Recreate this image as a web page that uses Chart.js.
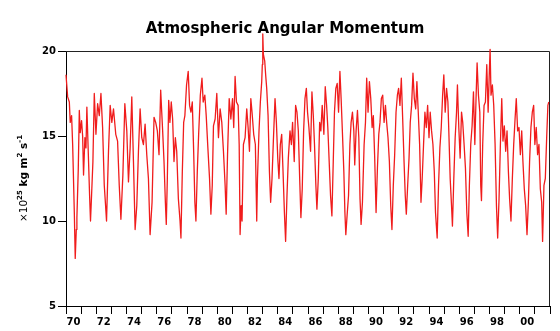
<!DOCTYPE html>
<html><head><meta charset="utf-8">
<script src="https://cdn.jsdelivr.net/npm/chart.js@4/dist/chart.umd.min.js"></script>
<style>html,body{margin:0;padding:0;background:#fff}#wrap{width:560px;height:331px}</style>
</head><body><div id="wrap"><canvas id="c" width="560" height="331"></canvas></div>
<script>
const titleText = 'Atmospheric Angular Momentum';
const yTickValues = [5, 10, 15, 20];
const xTickYears = [1970,1971,1972,1973,1974,1975,1976,1977,1978,1979,1980,1981,1982,1983,1984,1985,1986,1987,1988,1989,1990,1991,1992,1993,1994,1995,1996,1997,1998,1999,2000,2001,2002];
const xLabelYears = [1970,1972,1974,1976,1978,1980,1982,1984,1986,1988,1990,1992,1994,1996,1998,2000];
const xLabels = ['70','72','74','76','78','80','82','84','86','88','90','92','94','96','98','00'];

// decimal year of each reading
const decimalYears = [
1970.00,1970.11,1970.22,1970.28,1970.37,1970.44,1970.55,1970.61,1970.68,1970.72,1970.81,1970.88,1970.94,
1971.03,1971.10,1971.16,1971.25,1971.32,1971.38,1971.47,1971.56,1971.62,1971.69,1971.78,1971.87,1971.98,
1972.09,1972.20,1972.31,1972.42,1972.53,1972.61,1972.68,1972.81,1972.92,
1973.03,1973.14,1973.29,1973.41,1973.52,1973.63,1973.76,1973.89,
1974.02,1974.13,1974.24,1974.35,1974.46,1974.57,1974.68,1974.79,1974.90,
1975.01,1975.12,1975.23,1975.34,1975.45,1975.56,1975.69,1975.82,1975.93,
1976.04,1976.15,1976.26,1976.33,1976.39,1976.48,1976.57,1976.63,1976.70,1976.79,1976.87,1976.96,
1977.05,1977.14,1977.23,1977.32,1977.43,1977.54,1977.60,1977.69,1977.78,1977.86,1977.97,
1978.08,1978.17,1978.26,1978.35,1978.44,1978.52,1978.59,1978.68,1978.77,1978.88,1978.99,
1979.07,1979.18,1979.27,1979.38,1979.49,1979.58,1979.67,1979.75,1979.86,1979.97,
1980.08,1980.19,1980.30,1980.41,1980.52,1980.59,1980.68,1980.79,1980.90,
1981.01,1981.09,1981.18,1981.27,1981.38,1981.45,1981.51,1981.58,1981.64,1981.73,1981.84,1981.95,
1982.04,1982.13,1982.22,1982.30,1982.41,1982.52,1982.61,1982.66,1982.76,1982.85,1982.94,1982.98,
1983.01,1983.05,1983.14,1983.20,1983.27,1983.36,1983.45,1983.53,1983.62,1983.71,1983.82,1983.91,
1984.00,1984.08,1984.17,1984.26,1984.35,1984.44,1984.52,1984.61,1984.70,1984.81,1984.90,1984.98,
1985.09,1985.18,1985.27,1985.36,1985.45,1985.53,1985.62,1985.71,1985.80,1985.89,1985.97,
1986.06,1986.17,1986.26,1986.35,1986.43,1986.52,1986.59,1986.68,1986.77,1986.85,1986.94,
1987.05,1987.14,1987.23,1987.31,1987.40,1987.49,1987.58,1987.67,1987.75,1987.84,1987.93,
1988.02,1988.11,1988.19,1988.28,1988.37,1988.44,1988.50,1988.59,1988.68,1988.77,1988.85,1988.94,
1989.03,1989.09,1989.18,1989.27,1989.36,1989.44,1989.51,1989.60,1989.71,1989.80,1989.88,1989.97,
1990.06,1990.15,1990.24,1990.32,1990.41,1990.50,1990.59,1990.68,1990.76,1990.85,1990.94,
1991.03,1991.12,1991.20,1991.29,1991.38,1991.47,1991.55,1991.64,1991.73,1991.82,1991.91,1991.99,
1992.08,1992.17,1992.26,1992.35,1992.43,1992.50,1992.59,1992.68,1992.76,1992.85,1992.94,
1993.03,1993.12,1993.20,1993.29,1993.38,1993.47,1993.55,1993.64,1993.73,1993.82,1993.91,
1994.00,1994.08,1994.17,1994.26,1994.35,1994.43,1994.54,1994.63,1994.72,1994.81,1994.90,1994.98,
1995.07,1995.16,1995.25,1995.31,1995.40,1995.49,1995.55,1995.64,1995.73,1995.82,1995.88,1995.97,
1996.06,1996.15,1996.23,1996.32,1996.41,1996.50,1996.59,1996.67,1996.76,1996.85,1996.94,
1997.03,1997.11,1997.18,1997.27,1997.36,1997.42,1997.47,1997.55,1997.64,1997.73,1997.82,1997.91,1997.99,
1998.04,1998.10,1998.19,1998.28,1998.37,1998.46,1998.54,1998.63,1998.72,1998.81,1998.89,1998.98,
1999.07,1999.16,1999.25,1999.33,1999.42,1999.51,1999.60,1999.69,1999.77,1999.86,1999.95,
2000.04,2000.13,2000.21,2000.30,2000.39,2000.48,2000.57,2000.65,2000.74,2000.83,2000.92,
2001.00,2001.09,2001.18,2001.27,2001.36,2001.45,2001.51,2001.60,2001.69,2001.78,2001.86,2001.92
];

// atmospheric angular momentum, 10^25 kg m^2 s^-1
const aamValues = [
18.6,17.3,17.0,15.8,16.2,14.5,10.5,7.8,9.5,10.2,13.0,16.5,15.2,
15.9,15.0,12.7,14.9,14.3,16.7,14.1,11.5,10.0,11.5,13.5,17.5,15.1,
16.9,16.2,17.5,15.5,12.1,11.0,10.0,14.1,16.8,
15.8,16.6,15.1,14.7,12.1,10.1,12.7,16.9,
15.3,12.3,14.3,17.3,13.5,9.5,10.9,14.1,16.6,
14.9,14.5,15.7,13.9,12.5,9.2,11.1,16.1,15.8,
15.3,13.9,17.7,16.4,15.3,13.5,11.1,9.8,12.5,17.1,15.8,17.0,
16.0,13.5,14.9,14.1,11.3,10.0,9.0,12.9,15.8,16.2,18.0,
18.8,16.8,16.4,17.0,14.1,11.1,10.0,12.9,15.1,17.4,18.4,
17.0,17.4,16.2,14.3,12.5,10.4,12.1,15.6,16.0,17.5,
14.9,16.6,15.8,14.1,12.1,10.4,13.9,17.2,16.0,
17.2,15.5,18.5,17.0,16.8,14.5,9.2,10.9,10.0,14.5,14.9,16.6,
15.5,14.1,17.2,16.4,15.1,14.5,10.0,12.5,15.3,17.0,18.2,19.2,
21.0,19.8,19.4,18.6,17.8,16.2,12.9,11.1,12.5,14.7,17.2,15.8,
13.7,12.5,14.5,15.1,12.9,10.5,8.8,11.5,13.7,15.3,14.5,15.8,
13.5,16.8,16.4,15.3,12.5,10.2,11.9,15.3,17.2,17.8,16.4,
15.5,14.1,17.6,16.2,14.5,12.1,10.7,12.5,15.8,15.3,16.8,
15.1,17.9,16.8,15.5,13.5,11.5,10.3,13.5,16.4,17.8,18.1,
16.4,18.8,17.2,15.1,12.9,10.5,9.2,10.4,11.5,14.5,15.8,16.4,
15.3,13.3,15.3,16.5,14.9,11.3,9.8,11.1,14.5,15.8,18.4,16.4,
18.2,17.2,15.5,16.2,13.7,10.5,13.1,15.1,15.8,17.2,17.4,
15.8,16.8,15.8,14.9,13.5,10.9,9.5,12.1,13.9,16.4,17.4,17.8,
16.8,18.4,16.0,13.5,11.5,10.4,12.1,13.7,15.8,16.8,18.7,
17.2,16.6,18.2,16.4,14.5,11.1,12.5,14.5,16.4,15.5,16.8,
14.9,16.4,15.3,14.5,12.9,10.5,9.0,12.1,14.3,15.5,17.4,18.6,
16.4,17.8,17.0,15.3,12.5,10.9,9.7,12.5,14.9,16.4,18.0,15.5,
13.7,16.4,15.8,14.5,13.1,10.5,9.1,12.1,14.5,15.6,17.6,
14.5,17.2,19.3,17.4,16.4,12.1,11.2,14.5,16.8,17.0,19.2,16.4,18.8,
20.1,17.4,18.0,16.8,14.5,10.9,9.0,11.3,14.5,17.2,14.7,15.6,
14.1,15.3,12.9,11.3,10.0,12.5,14.5,16.0,17.2,15.3,15.5,
13.9,15.3,13.5,11.9,10.9,9.2,11.1,13.5,15.5,16.4,16.8,
14.5,15.5,13.9,14.5,11.9,11.1,8.8,12.1,12.5,14.9,16.8,17.0
];

const FONT = '"DejaVu Sans", "Liberation Sans", sans-serif';

const framePlugin = {
  id: 'frame',
  beforeDatasetsDraw(chart) {
    const {ctx, chartArea: a} = chart;
    ctx.save();
    ctx.strokeStyle = '#222';
    ctx.lineWidth = 1;
    const t = Math.round(a.top) + 0.5, r = Math.round(a.right) - 0.5;
    ctx.beginPath();
    ctx.moveTo(a.left, t); ctx.lineTo(r, t); ctx.lineTo(r, a.bottom);
    ctx.stroke();
    ctx.restore();
  }
};

const yTitlePlugin = {
  id: 'yTitle',
  afterDraw(chart) {
    const {ctx, chartArea: a} = chart;
    const cy = (a.top + a.bottom) / 2;
    const segs = [
      {t: '\u00d710', f: '10.5px ' + FONT, dy: 0},
      {t: '25', f: 'bold 7px ' + FONT, dy: -5},
      {t: ' kg m', f: 'bold 10.5px ' + FONT, dy: 0},
      {t: '2', f: 'bold 7px ' + FONT, dy: -5},
      {t: ' s', f: 'bold 10.5px ' + FONT, dy: 0},
      {t: '-1', f: 'bold 7px ' + FONT, dy: -5}
    ];
    ctx.save();
    ctx.translate(27, cy);
    ctx.rotate(-Math.PI / 2);
    ctx.fillStyle = '#000';
    ctx.textBaseline = 'alphabetic';
    ctx.textAlign = 'left';
    let total = 0;
    segs.forEach(s => { ctx.font = s.f; s.w = ctx.measureText(s.t).width; total += s.w; });
    let x = -total / 2;
    segs.forEach(s => { ctx.font = s.f; ctx.fillText(s.t, x, s.dy); x += s.w; });
    ctx.restore();
  }
};

new Chart(document.getElementById('c'), {
  type: 'line',
  data: {
    datasets: [{
      data: decimalYears.map((yr, i) => ({x: yr, y: aamValues[i]})),
      borderColor: 'rgb(240,28,28)',
      borderWidth: 1.3,
      borderJoinStyle: 'round',
      pointRadius: 0,
      tension: 0,
      clip: false
    }]
  },
  options: {
    responsive: false,
    animation: false,
    devicePixelRatio: 1,
    layout: {padding: {left: 20, right: 10, top: 0, bottom: 0}},
    plugins: {
      legend: {display: false},
      tooltip: {enabled: false},
      title: {
        display: true,
        text: titleText,
        color: '#000',
        font: {family: FONT, size: 15, weight: 'bold'},
        padding: {top: 20, bottom: 13}
      }
    },
    scales: {
      x: {
        type: 'linear',
        min: 1970,
        max: 2002,
        afterFit: (s) => { s.height = 25; },
        afterBuildTicks: (s) => {
          const t = xTickYears.map(v => ({value: v}))
            .concat(xLabelYears.map(v => ({value: v + 0.5})));
          t.sort((p, q) => p.value - q.value);
          s.ticks = t;
        },
        border: {display: true, color: '#000', width: 1},
        grid: {
          display: true,
          drawOnChartArea: false,
          drawTicks: true,
          tickLength: 8,
          tickWidth: 1,
          tickColor: (c) => (c.tick && Number.isInteger(c.tick.value)) ? '#000' : 'rgba(0,0,0,0)'
        },
        ticks: {
          autoSkip: false,
          maxRotation: 0,
          minRotation: 0,
          padding: 2,
          color: '#000',
          font: {family: FONT, size: 10, weight: 'bold'},
          callback: (v) => {
            const i = xLabelYears.indexOf(v - 0.5);
            return i >= 0 ? xLabels[i] : '';
          }
        }
      },
      y: {
        min: 5,
        max: 20,
        afterFit: (s) => { s.width = 46; },
        afterBuildTicks: (s) => { s.ticks = yTickValues.map(v => ({value: v})); },
        border: {display: true, color: '#000', width: 1},
        grid: {
          display: true,
          drawOnChartArea: false,
          drawTicks: true,
          tickLength: 8,
          tickWidth: 1,
          tickColor: '#000'
        },
        ticks: {
          padding: 2,
          color: '#000',
          font: {family: FONT, size: 10, weight: 'bold'}
        }
      }
    }
  },
  plugins: [framePlugin, yTitlePlugin]
});
</script>
</body></html>
